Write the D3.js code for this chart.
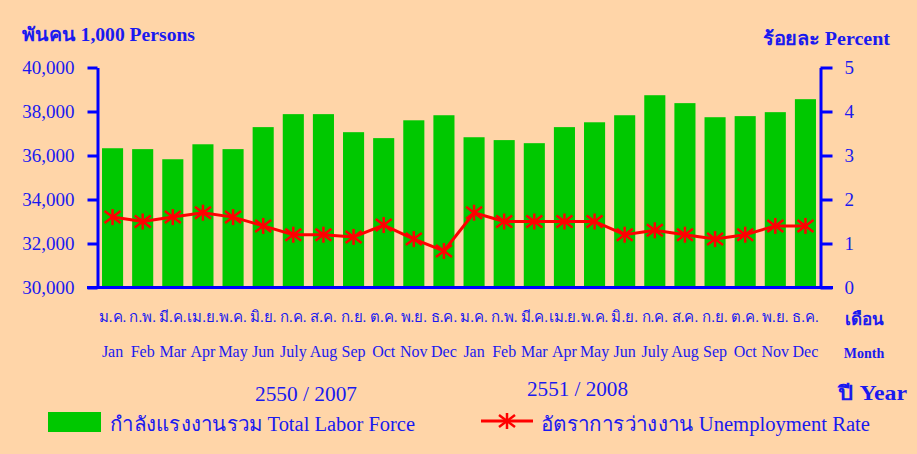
<!DOCTYPE html>
<html>
<head>
<meta charset="utf-8">
<script src="https://cdn.jsdelivr.net/npm/d3@7"></script>
<style>
  body { margin: 0; background: #ffd5a8; }
  text { font-family: "Liberation Serif", "Times New Roman", serif; fill: #1a1aef; }
</style>
</head>
<body>
<div id="svg-container"></div>
<script>
let w = 917;
let h = 454;

// data
let monthsThai = ['ม.ค.', 'ก.พ.', 'มี.ค.', 'เม.ย.', 'พ.ค.', 'มิ.ย.', 'ก.ค.', 'ส.ค.', 'ก.ย.', 'ต.ค.', 'พ.ย.', 'ธ.ค.'];
let monthsEng = ['Jan', 'Feb', 'Mar', 'Apr', 'May', 'Jun', 'July', 'Aug', 'Sep', 'Oct', 'Nov', 'Dec'];
let years = ['2550 / 2007', '2551 / 2008'];
let laborForce = [36330, 36290, 35830, 36510, 36290, 37290, 37880, 37880, 37060, 36790, 37600, 37830,
  36830, 36700, 36560, 37290, 37510, 37830, 38740, 38380, 37740, 37790, 37970, 38560];
let unemployment = [1.6, 1.5, 1.6, 1.7, 1.6, 1.4, 1.2, 1.2, 1.15, 1.42, 1.1, 0.83,
  1.7, 1.5, 1.5, 1.5, 1.5, 1.2, 1.3, 1.2, 1.1, 1.2, 1.4, 1.4];
let leftTicks = [30000, 32000, 34000, 36000, 38000, 40000];
let rightTicks = [0, 1, 2, 3, 4, 5];

let blue = '#0000ff';
let green = '#00c800';
let red = '#ff0000';

let svg = d3.select('#svg-container').
append('svg').
attr('width', w).
attr('height', h).
style('display', 'block');

svg.append('rect').
attr('width', w).
attr('height', h).
attr('fill', '#ffd5a8');

let idx = d3.range(laborForce.length);

let x = d3.scaleBand().
domain(idx).
range([97.5, 820.5]).
paddingInner(0.3).
paddingOuter(0.15);

let yL = d3.scaleLinear().domain([30000, 40000]).range([287.5, 67.5]);
let yR = d3.scaleLinear().domain([0, 5]).range([287.5, 67.5]);

// bars
svg.append('g').selectAll('rect').
data(laborForce).
enter().
append('rect').
attr('x', (d, i) => x(i)).
attr('y', d => yL(d)).
attr('width', x.bandwidth()).
attr('height', d => yL(30000) - yL(d)).
attr('fill', green);

// axes
let leftAxis = d3.axisLeft(yL).tickValues(leftTicks).tickSize(10).tickSizeOuter(0).tickPadding(13).
tickFormat(d3.format(','));
let gL = svg.append('g').attr('transform', 'translate(97.5,0)').call(leftAxis);

let rightAxis = d3.axisRight(yR).tickValues(rightTicks).tickSize(12).tickSizeOuter(0).tickPadding(12).
tickFormat(d3.format('d'));
let gR = svg.append('g').attr('transform', 'translate(820.5,0)').call(rightAxis);

[gL, gR].forEach(g => {
  g.select('.domain').attr('stroke', blue).attr('stroke-width', 3);
  g.selectAll('.tick line').attr('stroke', blue).attr('stroke-width', 3);
  g.selectAll('.tick text').
  attr('fill', '#1a1aef').
  style('font-family', '"Liberation Serif", serif').
  style('font-size', '19px');
});

svg.append('line').
attr('x1', 87).
attr('x2', 833).
attr('y1', 287.5).
attr('y2', 287.5).
attr('stroke', blue).
attr('stroke-width', 3);

// unemployment line
let line = d3.line().
x((d, i) => x(i) + x.bandwidth() / 2).
y(d => yR(d));

svg.append('path').
attr('d', line(unemployment)).
attr('fill', 'none').
attr('stroke', red).
attr('stroke-width', 3);

function star(g, cx, cy, r) {
  let s = g.append('g').attr('transform', 'translate(' + cx + ',' + cy + ')');
  [[0, -r, 0, r], [-r, -r * 0.75, r, r * 0.75], [-r, r * 0.75, r, -r * 0.75]].forEach(l => {
    s.append('line').
    attr('x1', l[0]).attr('y1', l[1]).attr('x2', l[2]).attr('y2', l[3]).
    attr('stroke', red).
    attr('stroke-width', 2.5);
  });
}

let markers = svg.append('g');
unemployment.forEach((d, i) => star(markers, x(i) + x.bandwidth() / 2, yR(d), 8));

// month labels
let monthIdx = idx.map(i => i % 12);
svg.append('g').selectAll('text').
data(monthIdx).
enter().
append('text').
attr('x', (d, i) => x(i) + x.bandwidth() / 2).
attr('y', 322).
attr('text-anchor', 'middle').
style('font-size', '15px').
text(d => monthsThai[d]);

svg.append('g').selectAll('text').
data(monthIdx).
enter().
append('text').
attr('x', (d, i) => x(i) + x.bandwidth() / 2).
attr('y', 357).
attr('text-anchor', 'middle').
style('font-size', '16px').
text(d => monthsEng[d]);

// year labels
svg.append('text').attr('x', 255).attr('y', 401).attr('textLength', 102).attr('lengthAdjust', 'spacingAndGlyphs').
style('font-size', '21px').text(years[0]);
svg.append('text').attr('x', 527).attr('y', 396).attr('textLength', 101).attr('lengthAdjust', 'spacingAndGlyphs').
style('font-size', '21px').text(years[1]);

// titles
svg.append('text').attr('x', 22).attr('y', 41).style('font-size', '19px').style('font-weight', 'bold').
attr('textLength', 173).attr('lengthAdjust', 'spacingAndGlyphs').
text('พันคน  1,000 Persons');
svg.append('text').attr('x', 763).attr('y', 45).style('font-size', '19px').
attr('textLength', 127).attr('lengthAdjust', 'spacingAndGlyphs').
style('font-weight', 'bold').text('ร้อยละ  Percent');
svg.append('text').attr('x', 864).attr('y', 325).attr('text-anchor', 'middle').style('font-size', '17px').
style('font-weight', 'bold').text('เดือน');
svg.append('text').attr('x', 864).attr('y', 358).attr('text-anchor', 'middle').style('font-size', '14px').
style('font-weight', 'bold').text('Month');
svg.append('text').attr('x', 838).attr('y', 400).style('font-size', '20px').
attr('textLength', 69).attr('lengthAdjust', 'spacingAndGlyphs').
style('font-weight', 'bold').text('ปี  Year');

// legend
let legend = svg.append('g');
legend.append('rect').attr('x', 48).attr('y', 412).attr('width', 53).attr('height', 20).attr('fill', green);
legend.append('text').attr('x', 110).attr('y', 431).style('font-size', '20px').
attr('textLength', 305).attr('lengthAdjust', 'spacingAndGlyphs').
text('กำลังแรงงานรวม Total Labor Force');
legend.append('line').attr('x1', 481).attr('x2', 533).attr('y1', 421).attr('y2', 421).
attr('stroke', red).attr('stroke-width', 3);
star(legend, 507, 421, 8);
legend.append('text').attr('x', 541).attr('y', 431).style('font-size', '20px').
attr('textLength', 329).attr('lengthAdjust', 'spacingAndGlyphs').
text('อัตราการว่างงาน  Unemployment Rate');
</script>
</body>
</html>
